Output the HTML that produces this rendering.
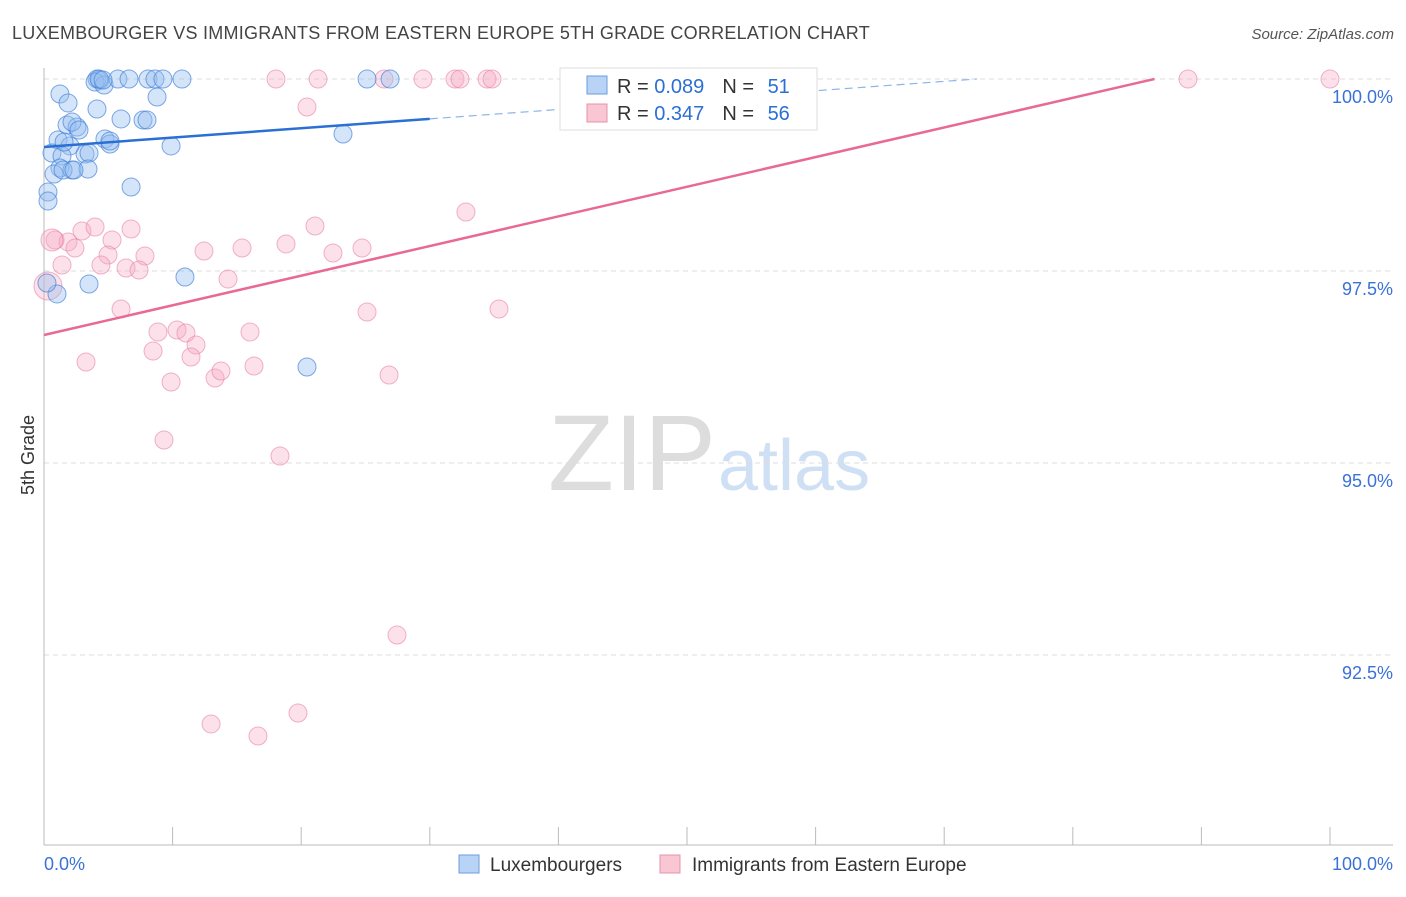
<!DOCTYPE html>
<html><head><meta charset="utf-8"><style>
body{margin:0;background:#fff;font-family:"Liberation Sans",sans-serif;}
svg text{font-family:"Liberation Sans",sans-serif;}
</style></head><body>
<svg id="chart" width="1406" height="892">
<text x="12" y="39" font-size="18" fill="#444" letter-spacing="0.25">LUXEMBOURGER VS IMMIGRANTS FROM EASTERN EUROPE 5TH GRADE CORRELATION CHART</text>
<text x="1394" y="39" font-size="15" fill="#555" text-anchor="end" font-style="italic">Source: ZipAtlas.com</text>
<text x="34" y="455" font-size="18" fill="#333" text-anchor="middle" transform="rotate(-90 34 455)">5th Grade</text>
<text x="716" y="490" font-size="108" fill="#ddd" text-anchor="end" font-family="Liberation Serif">ZIP</text>
<text x="718" y="490" font-size="72" fill="#cfe0f5">atlas</text>
<g id="grid"></g><g id="pts"></g><g id="lines"></g>
<g>
<rect x="560" y="68" width="257" height="62" fill="#fff" stroke="#ddd"/>
<rect x="587" y="76" width="20" height="18" fill="#b8d3f5" stroke="#6b9ee0"/>
<text x="617" y="93" font-size="20" fill="#333">R = <tspan fill="#2b6fd6">0.089</tspan><tspan dx="18">N = </tspan><tspan fill="#2b6fd6" dx="8">51</tspan></text>
<rect x="587" y="104" width="20" height="18" fill="#f9c6d4" stroke="#e890aa"/>
<text x="617" y="120" font-size="20" fill="#333">R = <tspan fill="#2b6fd6">0.347</tspan><tspan dx="18">N = </tspan><tspan fill="#2b6fd6" dx="8">56</tspan></text>
</g>
<g>
<rect x="459" y="855" width="20" height="18" fill="#b8d3f5" stroke="#6b9ee0"/>
<text x="490" y="871" font-size="19" fill="#333">Luxembourgers</text>
<rect x="660" y="855" width="20" height="18" fill="#f9c6d4" stroke="#e890aa"/>
<text x="692" y="871" font-size="19" fill="#333">Immigrants from Eastern Europe</text>
</g>
</svg>
<script>
const yTicks=[100,97.5,95,92.5];
const yTickLabels=["100.0%","97.5%","95.0%","92.5%"];
const xTickLabels=["0.0%","100.0%"];
const bluePx=[[60,94],[68,103],[97,79],[100,80],[95,82],[104,85],[118,79],[129,79],[148,79],[155,79],[163,79],[182,79],[367,79],[390,79],[157,97],[97,109],[121,119],[143,120],[147,120],[67,125],[77,127],[72,122],[79,130],[58,140],[105,139],[110,144],[70,146],[52,153],[62,156],[85,154],[89,153],[171,146],[343,134],[60,168],[54,174],[72,170],[63,170],[88,169],[131,187],[48,192],[48,201],[185,277],[89,284],[57,294],[307,367],[47,283],[74,170],[99,79],[103,80],[110,141],[64,142]];
const pinkPx=[[276,79],[318,79],[384,79],[423,79],[455,79],[460,79],[487,79],[492,79],[1188,79],[1330,79],[307,107],[466,212],[55,240],[68,242],[75,248],[82,231],[95,227],[112,240],[108,255],[101,265],[126,268],[131,229],[145,256],[139,270],[204,251],[242,248],[286,244],[315,226],[333,253],[362,248],[228,279],[121,309],[62,265],[158,332],[177,330],[186,333],[196,345],[153,351],[191,357],[250,332],[367,312],[499,309],[86,362],[171,382],[215,378],[221,371],[254,366],[389,375],[164,440],[280,456],[397,635],[211,724],[258,736],[298,713],[48,286],[52,240]];
const blueX=bluePx.map(p=>+((p[0]-44)/12.86).toFixed(2)), blueY=bluePx.map(p=>+(100-(p[1]-79)/76.8).toFixed(3));
const pinkX=pinkPx.map(p=>+((p[0]-44)/12.86).toFixed(2)), pinkY=pinkPx.map(p=>+(100-(p[1]-79)/76.8).toFixed(3));
const blueTrend=[99.115,0.0122], pinkTrend=[96.667,0.0386];
const xS=v=>44+v*12.86, yS=v=>79+(100-v)*76.8;
const NS="http://www.w3.org/2000/svg";
function mk(t,a,parent){const e=document.createElementNS(NS,t);for(const k in a)e.setAttribute(k,a[k]);parent.appendChild(e);return e;}
const grid=document.getElementById('grid');
yTicks.forEach((t,i)=>{
 const l=mk('line',{x1:44,x2:1393,y1:yS(t),y2:yS(t),stroke:'#ddd','stroke-dasharray':'5,4'},grid);
 
 
 const tx=mk('text',{x:1393,y:yS(t)+24,'font-size':18,fill:'#3a72d6','text-anchor':'end'},grid);
 tx.textContent=yTickLabels[i];
 
 
});
mk('line',{x1:44,x2:44,y1:68,y2:845,stroke:'#bbb'},grid);
mk('line',{x1:44,x2:1393,y1:845,y2:845,stroke:'#bbb'},grid);
for(let i=0;i<=10;i++){mk('line',{x1:xS(i*10),x2:xS(i*10),y1:827,y2:845,stroke:'#bbb'},grid);}
[[0,'start',44],[100,'end',1393]].forEach((d,i)=>{const t=mk('text',{x:d[2],y:870,'font-size':18,fill:'#3a72d6','text-anchor':d[1]},grid);t.textContent=xTickLabels[i];
 
 });
const pts=document.getElementById('pts');
pinkX.forEach((x,i)=>{const r=(i>=54)?(i==54?14:11):9;const c=mk('circle',{cx:xS(x),cy:yS(pinkY[i]),r:r,fill:'rgba(246,170,195,0.35)',stroke:'rgba(232,130,165,0.6)'},pts);
 
 });
blueX.forEach((x,i)=>{const c=mk('circle',{cx:xS(x),cy:yS(blueY[i]),r:9,fill:'rgba(150,190,240,0.4)',stroke:'rgba(60,125,215,0.65)'},pts);
 
 });
const lines=document.getElementById('lines');
const bl=mk('line',{x1:xS(0),y1:yS(blueTrend[0]),x2:xS(30),y2:yS(blueTrend[0]+30*blueTrend[1]),stroke:'#2a6fd3','stroke-width':2.5},lines);


const xe=(100-blueTrend[0])/blueTrend[1];
const bd=mk('line',{x1:xS(30),y1:yS(blueTrend[0]+30*blueTrend[1]),x2:xS(xe),y2:yS(100),stroke:'#8fb4e6','stroke-width':1.2,'stroke-dasharray':'8,5'},lines);


const pe=(100-pinkTrend[0])/pinkTrend[1];
const pl=mk('line',{x1:xS(0),y1:yS(pinkTrend[0]),x2:xS(pe),y2:yS(100),stroke:'#e86a94','stroke-width':2.5},lines);


</script>
</body></html>
